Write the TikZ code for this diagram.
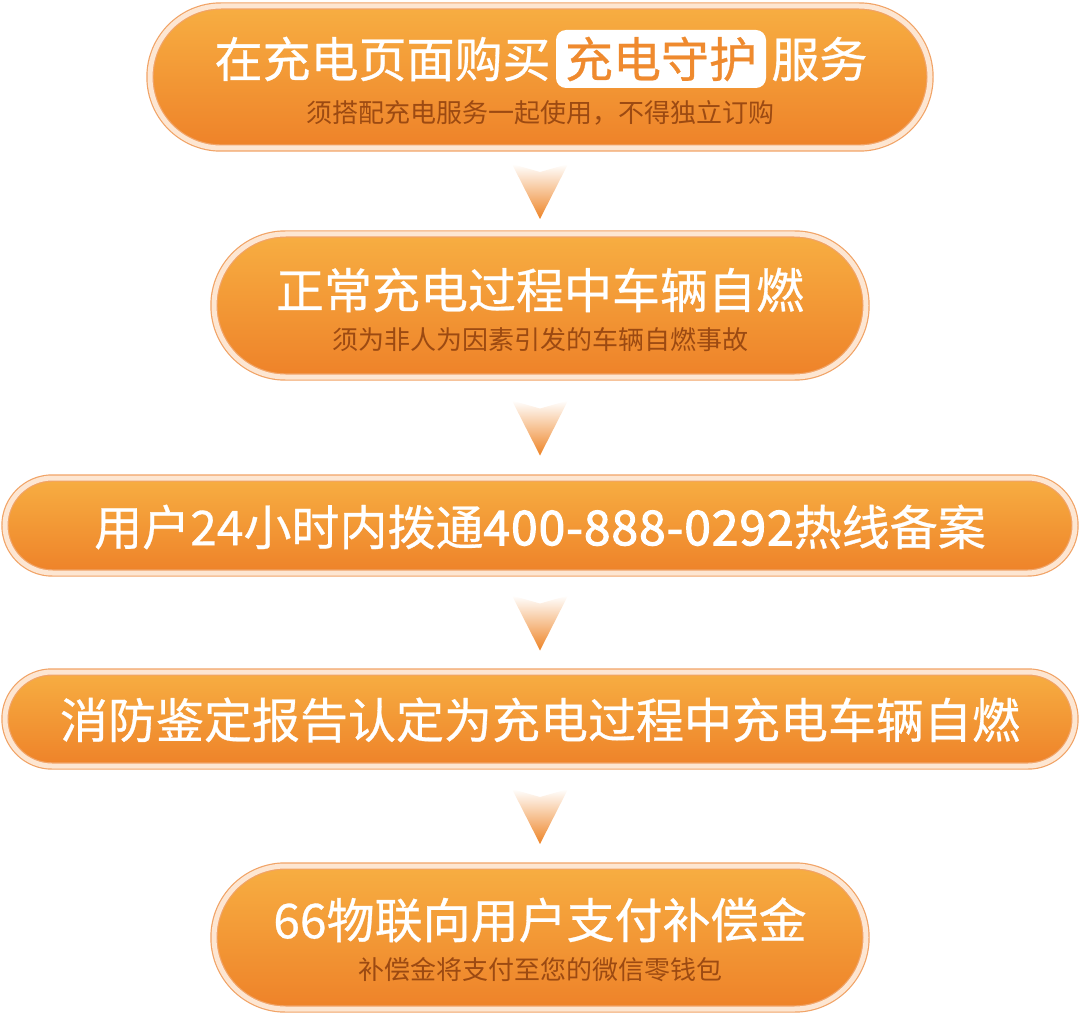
\documentclass[tikz,border=0pt]{standalone}
\usepackage{fontspec}
\newfontfamily\cjk{Noto Sans CJK SC}
\newfontfamily\cjkm[FakeBold=0.6]{Noto Sans CJK SC}
\newfontfamily\digb[FakeBold=2.2,LetterSpace=2]{Noto Sans CJK SC}
\usetikzlibrary{positioning,calc}
\definecolor{pilltop}{HTML}{F7AE42}
\definecolor{pillbot}{HTML}{EE8229}
\definecolor{pillring}{HTML}{FDE6D2}
\definecolor{pillline}{HTML}{F1A366}
\definecolor{subtxt}{HTML}{9C4A12}
\definecolor{hltxt}{HTML}{EF8A2E}
\definecolor{arrowbot}{HTML}{EE8426}
\tikzset{
  pill/.style 2 args={rectangle,inner sep=0pt,minimum width=#1,minimum height=#2,
    rounded corners=#2/2,top color=pilltop,bottom color=pillbot,
    draw=pillline,double=pillring,double distance=5pt,line width=1.2pt},
  maintxt/.style={inner sep=0pt,text=white,font=\cjkm\fontsize{48}{56}\selectfont},
  subtxt/.style={inner sep=0pt,text=subtxt,font=\cjk\fontsize{26}{30}\selectfont},
  hlbox/.style={fill=white,rounded corners=10pt,inner xsep=9pt,inner ysep=0pt,
    minimum height=58pt,text=hltxt,font=\cjkm\fontsize{48}{56}\selectfont}
}
\begin{document}
\begin{tikzpicture}[x=1pt,y=-1pt]
\useasboundingbox (0,0) rectangle (1080,1014);

\node[pill={780pt}{142pt}] (b1) at (540,77) {};
\node[pill={652pt}{143pt}] (b2) at (540,305.5) {};
\node[pill={1070pt}{95pt}] (b3) at (540,525.5) {};
\node[pill={1070pt}{94pt}] (b4) at (540,719) {};
\node[pill={652pt}{143pt}] (b5) at (540,937.5) {};

\node[hlbox] (t1b) at (661,59) {充电守护};
\node[maintxt,left=5pt of t1b] (t1a) {在充电页面购买};
\node[maintxt,right=5pt of t1b] (t1c) {服务};
\node[subtxt] (s1) at (540,113) {须搭配充电服务一起使用，不得独立订购};

\node[maintxt] (t2) at (540,290) {正常充电过程中车辆自燃};
\node[subtxt] (s2) at (540,340) {须为非人为因素引发的车辆自燃事故};

\node[maintxt] (t3) at (540,527) {用户24小时内拨通{\digb 400-888-0292}热线备案};
\node[maintxt] (t4) at (540,720) {消防鉴定报告认定为充电过程中充电车辆自燃};

\node[maintxt] (t5) at (540,920) {66物联向用户支付补偿金};
\node[subtxt] (s5) at (540,970) {补偿金将支付至您的微信零钱包};

\foreach \a/\b in {b1/b2,b2/b3,b3/b4,b4/b5}
{\coordinate (m) at ($(\a.south)!0.5!(\b.north)$);
\shade[top color=white,middle color=arrowbot!45,bottom color=arrowbot]
  ($(m)+(-28,-27)$) -- ($(m)+(0,-19)$) -- ($(m)+(28,-27)$) -- ($(m)+(0,28)$) -- cycle;}

\end{tikzpicture}
\end{document}
